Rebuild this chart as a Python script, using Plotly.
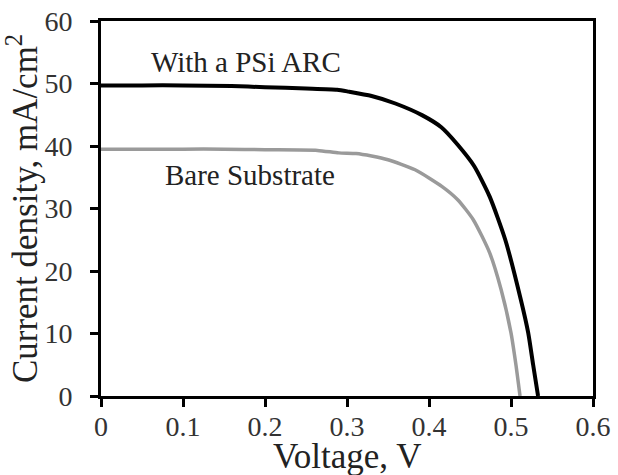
import plotly.graph_objects as go

psi_v = [0.0, 0.05, 0.10, 0.159, 0.20, 0.25, 0.288, 0.302, 0.33, 0.359, 0.392, 0.415, 0.435, 0.455, 0.474, 0.493, 0.512, 0.521, 0.527, 0.533]
psi_j = [49.7, 49.7, 49.7, 49.6, 49.4, 49.2, 49.0, 48.7, 48.0, 46.8, 44.9, 43.0, 40.2, 36.8, 31.9, 25.0, 15.4, 10.1, 5.0, 0.0]

bare_v = [0.0, 0.05, 0.10, 0.15, 0.20, 0.264, 0.29, 0.311, 0.33, 0.35, 0.383, 0.416, 0.435, 0.454, 0.474, 0.488, 0.50, 0.506, 0.511]
bare_j = [39.5, 39.5, 39.5, 39.5, 39.4, 39.3, 38.9, 38.8, 38.4, 37.8, 36.2, 33.5, 31.4, 28.2, 22.9, 17.0, 10.1, 5.0, 0.0]

x_ticks = [0, 0.1, 0.2, 0.3, 0.4, 0.5, 0.6]
x_tick_labels = ["0", "0.1", "0.2", "0.3", "0.4", "0.5", "0.6"]
y_ticks = [0, 10, 20, 30, 40, 50, 60]
x_title = "Voltage, V"
y_title = "Current density, mA/cm<sup>2</sup>"

font = "Liberation Serif"

fig = go.Figure()
fig.add_trace(go.Scatter(x=psi_v, y=psi_j, mode="lines", line=dict(color="black", width=4, shape="spline", smoothing=0.6), showlegend=False))
fig.add_trace(go.Scatter(x=bare_v, y=bare_j, mode="lines", line=dict(color="#9a9a9a", width=3.5, shape="spline", smoothing=0.6), showlegend=False))

fig.add_annotation(x=0.058, y=53.4, text="With a PSi ARC", showarrow=False, xanchor="left", yanchor="middle",
                   font=dict(family=font, size=29, color="#222222"))
fig.add_annotation(x=0.076, y=35.3, text="Bare Substrate", showarrow=False, xanchor="left", yanchor="middle",
                   font=dict(family=font, size=29, color="#222222"))
# x-axis title placed at the bottom edge of the figure
fig.add_annotation(xref="paper", yref="paper", x=0.5, y=-79 / 375, text=x_title, showarrow=False,
                   xanchor="center", yanchor="bottom", borderpad=0, yshift=-2,
                   font=dict(family=font, size=35, color="#222222"))

fig.update_layout(
    width=618, height=475,
    margin=dict(l=101, r=25, t=21, b=79),
    paper_bgcolor="white", plot_bgcolor="white",
    font=dict(family=font, color="#222222"),
    xaxis=dict(range=[0, 0.6], tickvals=x_ticks, ticktext=x_tick_labels, ticks="outside", ticklen=8, tickwidth=2.5,
               tickcolor="black", automargin=False, ticklabelstandoff=-5,
               showline=True, linecolor="black", linewidth=3, mirror=True, showgrid=False, zeroline=False,
               tickfont=dict(family=font, size=28, color="#333333")),
    yaxis=dict(range=[0, 60], tickvals=y_ticks, ticks="outside", ticklen=8, tickwidth=2.5,
               tickcolor="black", automargin=False, ticklabelstandoff=12,
               showline=True, linecolor="black", linewidth=3, mirror=True, showgrid=False, zeroline=False,
               tickfont=dict(family=font, size=28, color="#333333"),
               title=dict(text=y_title, font=dict(family=font, size=35, color="#222222"), standoff=0)),
)

fig.write_html("out.html", config={"displayModeBar": False},
               post_script="document.body.style.margin='0';document.body.style.overflow='hidden';")
